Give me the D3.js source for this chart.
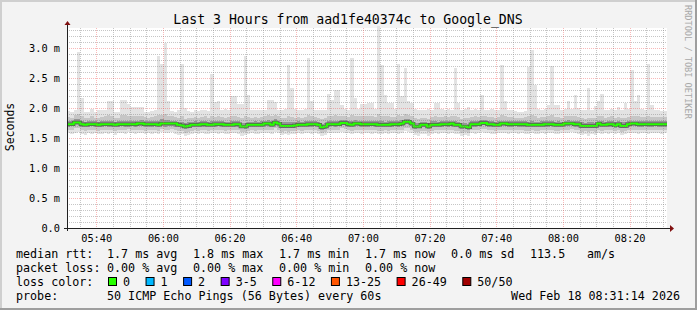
<!DOCTYPE html>
<html>
<head>
<meta charset="utf-8">
<script src="https://cdn.jsdelivr.net/npm/d3@7"></script>
<style>
  html, body { margin: 0; padding: 0; background: #f3f3f3; }
  svg text { font-family: "DejaVu Sans Mono", monospace; fill: #000; }
</style>
</head>
<body>
<svg id="chart" width="697" height="310"></svg>
<script>
const title = 'Last 3 Hours from aad1fe40374c to Google_DNS';
const yLabel = 'Seconds';
const yTickValues = [0, 0.5, 1.0, 1.5, 2.0, 2.5, 3.0]; // ms
const yTickLabels = ['0.0', '0.5 m', '1.0 m', '1.5 m', '2.0 m', '2.5 m', '3.0 m'];
const xTickLabels = ['05:40', '06:00', '06:20', '06:40', '07:00', '07:20', '07:40', '08:00', '08:20'];

// one column per minute, 05:31 -> 08:31 (ms)
const rttMax = [
  1.95,1.94,1.96,2.94,2.16,1.94,1.93,1.99,1.94,1.96, 1.96,1.96,2.12,2.12,1.94,1.93,2.13,2.13,2.06,2.01,
  2.01,2.01,2.01,1.94,1.93,1.95,1.97,2.86,2.74,3.08, 2.12,1.95,1.94,1.96,2.73,2.00,1.95,1.94,1.96,1.95,
  1.96,1.97,1.95,2.57,2.10,2.11,1.96,1.98,1.97,2.20, 2.20,2.06,2.06,2.87,2.22,1.97,1.96,1.97,1.96,1.97,
  2.13,2.13,2.10,1.97,1.96,1.98,2.72,2.33,1.98,1.97, 1.96,1.98,2.83,2.11,1.97,1.96,1.96,1.97,2.24,2.13,
  2.30,2.30,2.05,1.98,1.97,2.84,2.16,1.99,2.07,2.07, 2.08,2.08,1.99,3.36,2.72,2.21,2.08,2.08,1.98,2.73,
  2.20,2.66,2.11,2.09,1.98,1.97,1.97,1.96,1.98,1.97, 2.08,2.08,1.98,1.97,1.98,1.97,2.67,2.08,1.97,1.98,
  2.02,1.97,1.98,1.97,2.21,1.97,1.97,1.98,1.96,1.97, 2.72,2.12,1.97,1.96,1.95,1.93,1.94,1.95,2.69,2.97,
  2.38,1.99,1.97,1.98,2.05,2.70,2.05,2.05,1.96,1.98, 2.12,1.99,2.22,2.00,1.96,1.97,2.34,1.96,2.04,2.11,
  2.23,1.96,1.97,1.98,1.96,2.02,1.97,2.08,1.98,2.63, 2.11,2.22,1.98,1.96,2.73,2.05,1.97,1.96,1.95,1.95
];
const rttP90 = [
  1.85,1.84,1.88,1.90,1.86,1.83,1.84,1.87,1.84,1.84, 1.85,1.86,1.88,1.87,1.84,1.84,1.88,1.88,1.86,1.87,
  1.86,1.87,1.87,1.85,1.84,1.85,1.86,1.88,1.89,1.90, 1.87,1.86,1.85,1.84,1.86,1.82,1.83,1.84,1.85,1.84,
  1.85,1.86,1.84,1.87,1.85,1.86,1.85,1.84,1.85,1.87, 1.87,1.85,1.83,1.86,1.85,1.84,1.85,1.84,1.85,1.86,
  1.88,1.87,1.88,1.86,1.83,1.83,1.86,1.85,1.83,1.85, 1.84,1.85,1.88,1.86,1.85,1.84,1.82,1.83,1.87,1.86,
  1.88,1.87,1.87,1.86,1.85,1.88,1.86,1.86,1.86,1.86, 1.86,1.86,1.85,1.90,1.87,1.86,1.86,1.85,1.85,1.88,
  1.87,1.90,1.88,1.86,1.83,1.82,1.84,1.84,1.82,1.85, 1.86,1.85,1.85,1.86,1.85,1.86,1.87,1.85,1.82,1.83,
  1.83,1.85,1.86,1.85,1.87,1.86,1.85,1.85,1.84,1.85, 1.88,1.86,1.85,1.85,1.84,1.84,1.84,1.85,1.86,1.89,
  1.86,1.84,1.85,1.85,1.86,1.88,1.85,1.85,1.84,1.86, 1.87,1.86,1.86,1.85,1.83,1.82,1.84,1.83,1.83,1.86,
  1.86,1.84,1.85,1.86,1.83,1.85,1.83,1.84,1.85,1.87, 1.86,1.86,1.85,1.85,1.87,1.85,1.85,1.85,1.85,1.85
];
const rttP75 = [
  1.78,1.78,1.81,1.82,1.78,1.77,1.78,1.79,1.78,1.77, 1.78,1.79,1.79,1.78,1.77,1.78,1.79,1.79,1.78,1.79,
  1.78,1.79,1.80,1.78,1.78,1.78,1.79,1.78,1.81,1.80, 1.80,1.79,1.79,1.77,1.77,1.75,1.76,1.77,1.78,1.77,
  1.78,1.79,1.77,1.78,1.78,1.79,1.78,1.77,1.77,1.78, 1.79,1.78,1.75,1.75,1.77,1.77,1.78,1.77,1.78,1.79,
  1.80,1.78,1.81,1.79,1.76,1.76,1.76,1.77,1.76,1.78, 1.77,1.78,1.79,1.78,1.78,1.77,1.74,1.75,1.79,1.79,
  1.79,1.79,1.80,1.80,1.78,1.78,1.80,1.79,1.78,1.79, 1.78,1.79,1.79,1.78,1.78,1.77,1.78,1.78,1.79,1.79,
  1.80,1.82,1.82,1.79,1.75,1.75,1.77,1.77,1.75,1.78, 1.78,1.77,1.78,1.79,1.78,1.79,1.78,1.77,1.75,1.75,
  1.74,1.78,1.79,1.78,1.80,1.80,1.78,1.78,1.77,1.78, 1.79,1.79,1.78,1.78,1.78,1.78,1.78,1.78,1.77,1.78,
  1.77,1.77,1.78,1.78,1.79,1.79,1.77,1.78,1.77,1.79, 1.80,1.79,1.78,1.78,1.76,1.75,1.76,1.76,1.75,1.79,
  1.78,1.77,1.78,1.79,1.76,1.78,1.76,1.76,1.78,1.79, 1.79,1.78,1.78,1.79,1.78,1.78,1.78,1.78,1.78,1.78
];
const rttMedian = [
  1.73,1.73,1.76,1.76,1.73,1.72,1.73,1.73,1.73,1.72, 1.73,1.73,1.73,1.73,1.72,1.73,1.73,1.73,1.73,1.73,
  1.73,1.74,1.74,1.73,1.73,1.73,1.73,1.72,1.74,1.74, 1.74,1.74,1.74,1.72,1.71,1.69,1.70,1.72,1.72,1.72,
  1.73,1.73,1.72,1.72,1.73,1.73,1.73,1.72,1.72,1.72, 1.73,1.73,1.69,1.69,1.72,1.72,1.72,1.72,1.72,1.74,
  1.74,1.72,1.76,1.74,1.70,1.70,1.70,1.70,1.71,1.72, 1.72,1.72,1.73,1.73,1.73,1.72,1.68,1.69,1.73,1.73,
  1.73,1.73,1.75,1.75,1.73,1.72,1.74,1.74,1.73,1.73, 1.73,1.73,1.73,1.72,1.72,1.72,1.72,1.73,1.73,1.73,
  1.74,1.77,1.77,1.74,1.69,1.69,1.72,1.72,1.69,1.72, 1.72,1.72,1.73,1.73,1.73,1.74,1.72,1.72,1.69,1.69,
  1.68,1.73,1.73,1.73,1.75,1.75,1.73,1.73,1.72,1.72, 1.74,1.74,1.73,1.73,1.73,1.73,1.73,1.73,1.72,1.72,
  1.72,1.72,1.72,1.73,1.73,1.73,1.72,1.72,1.72,1.74, 1.74,1.74,1.73,1.73,1.70,1.70,1.70,1.70,1.70,1.74,
  1.72,1.72,1.73,1.73,1.71,1.73,1.70,1.70,1.73,1.74, 1.74,1.73,1.73,1.73,1.73,1.73,1.73,1.73,1.73,1.73
];
const rttP25 = [
  1.69,1.70,1.72,1.71,1.69,1.68,1.69,1.70,1.69,1.68, 1.69,1.70,1.69,1.69,1.68,1.69,1.70,1.69,1.69,1.70,
  1.69,1.70,1.70,1.69,1.68,1.69,1.70,1.68,1.70,1.69, 1.70,1.70,1.69,1.68,1.67,1.65,1.66,1.68,1.69,1.68,
  1.69,1.69,1.68,1.68,1.69,1.70,1.69,1.68,1.68,1.69, 1.69,1.69,1.66,1.65,1.68,1.69,1.68,1.68,1.69,1.70,
  1.70,1.68,1.72,1.70,1.66,1.67,1.66,1.67,1.67,1.68, 1.68,1.69,1.69,1.69,1.70,1.68,1.64,1.65,1.69,1.70,
  1.69,1.70,1.71,1.71,1.69,1.68,1.70,1.70,1.69,1.69, 1.69,1.70,1.69,1.68,1.68,1.69,1.68,1.69,1.70,1.69,
  1.70,1.73,1.73,1.70,1.65,1.66,1.68,1.68,1.65,1.68, 1.68,1.69,1.69,1.70,1.69,1.70,1.68,1.68,1.65,1.66,
  1.64,1.69,1.69,1.70,1.71,1.71,1.69,1.69,1.68,1.68, 1.70,1.70,1.69,1.69,1.70,1.69,1.69,1.69,1.68,1.68,
  1.68,1.68,1.69,1.69,1.69,1.70,1.68,1.68,1.68,1.70, 1.70,1.71,1.69,1.69,1.66,1.66,1.66,1.67,1.66,1.70,
  1.68,1.68,1.69,1.69,1.67,1.69,1.66,1.66,1.69,1.70, 1.70,1.69,1.69,1.70,1.69,1.69,1.70,1.69,1.69,1.69
];
const rttP10 = [
  1.64,1.63,1.66,1.66,1.63,1.62,1.64,1.63,1.64,1.62, 1.63,1.64,1.63,1.64,1.62,1.64,1.64,1.63,1.65,1.64,
  1.63,1.64,1.64,1.62,1.63,1.63,1.64,1.62,1.65,1.64, 1.64,1.65,1.63,1.62,1.61,1.59,1.60,1.62,1.63,1.62,
  1.64,1.63,1.62,1.63,1.64,1.63,1.64,1.62,1.63,1.63, 1.64,1.63,1.60,1.60,1.62,1.63,1.62,1.63,1.63,1.64,
  1.64,1.63,1.66,1.64,1.60,1.61,1.60,1.62,1.61,1.63, 1.62,1.63,1.64,1.63,1.64,1.62,1.58,1.60,1.63,1.64,
  1.63,1.64,1.66,1.65,1.63,1.62,1.64,1.64,1.63,1.64, 1.63,1.63,1.64,1.62,1.62,1.63,1.62,1.64,1.64,1.63,
  1.64,1.67,1.66,1.64,1.60,1.60,1.62,1.62,1.60,1.62, 1.63,1.63,1.63,1.64,1.63,1.64,1.62,1.62,1.59,1.60,
  1.58,1.63,1.63,1.64,1.65,1.65,1.63,1.63,1.62,1.63, 1.64,1.64,1.63,1.63,1.64,1.63,1.63,1.62,1.62,1.63,
  1.62,1.62,1.63,1.63,1.64,1.64,1.62,1.62,1.63,1.64, 1.64,1.65,1.63,1.63,1.60,1.61,1.60,1.61,1.60,1.64,
  1.62,1.63,1.63,1.64,1.61,1.63,1.60,1.61,1.63,1.64, 1.64,1.63,1.64,1.64,1.63,1.63,1.64,1.63,1.63,1.63
];
const rttMin = [
  1.58,1.56,1.58,1.60,1.57,1.55,1.58,1.57,1.59,1.56, 1.57,1.58,1.56,1.58,1.55,1.59,1.58,1.57,1.60,1.58,
  1.57,1.59,1.58,1.56,1.58,1.57,1.59,1.56,1.60,1.59, 1.58,1.60,1.57,1.55,1.56,1.53,1.55,1.57,1.58,1.56,
  1.58,1.57,1.56,1.58,1.59,1.57,1.58,1.56,1.57,1.58, 1.59,1.57,1.54,1.55,1.57,1.58,1.56,1.57,1.58,1.59,
  1.58,1.57,1.60,1.59,1.55,1.56,1.55,1.57,1.56,1.58, 1.57,1.58,1.59,1.57,1.58,1.57,1.53,1.55,1.58,1.59,
  1.58,1.59,1.60,1.59,1.58,1.57,1.59,1.58,1.57,1.59, 1.58,1.57,1.59,1.57,1.56,1.58,1.57,1.59,1.58,1.57,
  1.59,1.61,1.60,1.58,1.55,1.54,1.57,1.56,1.54,1.57, 1.58,1.57,1.58,1.59,1.57,1.58,1.57,1.56,1.54,1.55,
  1.53,1.58,1.57,1.59,1.60,1.59,1.58,1.57,1.56,1.58, 1.59,1.58,1.57,1.58,1.59,1.57,1.58,1.56,1.57,1.58,
  1.56,1.57,1.58,1.57,1.59,1.58,1.56,1.57,1.58,1.59, 1.58,1.60,1.58,1.57,1.55,1.56,1.54,1.56,1.55,1.59,
  1.57,1.58,1.57,1.59,1.56,1.58,1.55,1.56,1.58,1.59, 1.58,1.57,1.59,1.58,1.57,1.58,1.59,1.58,1.57,1.58
];

const rttStats = ['1.7 ms avg', '1.8 ms max', '1.7 ms min', '1.7 ms now', '0.0 ms sd', '113.5', 'am/s'];
const lossStats = ['0.00 % avg', '0.00 % max', '0.00 % min', '0.00 % now'];
const lossLabels = ['0', '1', '2', '3-5', '6-12', '13-25', '26-49', '50/50'];
const lossColors = ['#26ff00', '#00b8ff', '#0059ff', '#7e00ff', '#ff00ff', '#ff5500', '#ff0000', '#a10000'];
const probeText = '50 ICMP Echo Pings (56 Bytes) every 60s';
const stampText = 'Wed Feb 18 08:31:14 2026';

const W = 697, H = 310;
const plot = { left: 67, right: 667, top: 28, bottom: 228 };
const endTime = new Date(Date.UTC(2026, 1, 18, 8, 31, 14));
const startTime = new Date(endTime.getTime() - 3 * 3600 * 1000);

const svg = d3.select('#chart');

// background + 3d frame
svg.append('rect').attr('width', W).attr('height', H).attr('fill', '#f3f3f3');
svg.append('rect').attr('x', 0).attr('y', 0).attr('width', W).attr('height', 2).attr('fill', '#cfcfcf');
svg.append('rect').attr('x', 0).attr('y', 0).attr('width', 2).attr('height', H).attr('fill', '#cfcfcf');
svg.append('rect').attr('x', 0).attr('y', H - 2).attr('width', W).attr('height', 2).attr('fill', '#9e9e9e');
svg.append('rect').attr('x', W - 2).attr('y', 0).attr('width', 2).attr('height', H).attr('fill', '#9e9e9e');

svg.append('rect')
  .attr('x', plot.left).attr('y', plot.top)
  .attr('width', plot.right - plot.left).attr('height', plot.bottom - plot.top)
  .attr('fill', '#ffffff');

const x = d3.scaleUtc().domain([startTime, endTime]).range([plot.left, plot.right]);
const y = d3.scaleLinear().domain([0, 10 / 3]).range([plot.bottom, plot.top]);

// columns, plus a closing point so the last step reaches the right edge
const cols = rttMedian.map((m, i) => ({
  t: new Date(startTime.getTime() + i * 60000),
  min: rttMin[i], p10: rttP10[i], p25: rttP25[i], med: m,
  p75: rttP75[i], p90: rttP90[i], max: rttMax[i]
}));
cols.push(Object.assign({}, cols[cols.length - 1], { t: endTime }));

const smoke = [
  { lo: 'min', hi: 'max', fill: '#e3e3e3' },
  { lo: 'p10', hi: 'p90', fill: '#c6c6c6' },
  { lo: 'p25', hi: 'p75', fill: '#969696' }
];
const g = svg.append('g');
smoke.forEach(s => {
  g.append('path')
    .datum(cols)
    .attr('fill', s.fill)
    .attr('shape-rendering', 'crispEdges')
    .attr('d', d3.area()
      .curve(d3.curveStepAfter)
      .x(d => x(d.t))
      .y0(d => y(d[s.lo]))
      .y1(d => y(d[s.hi])));
});

const medLine = d3.line().curve(d3.curveStepAfter).x(d => x(d.t)).y(d => y(d.med));
g.append('path').datum(cols).attr('fill', 'none')
  .attr('stroke', '#5a5a5a').attr('stroke-width', 3.4).attr('d', medLine);
g.append('path').datum(cols).attr('fill', 'none')
  .attr('stroke', lossColors[0]).attr('stroke-width', 2).attr('d', medLine);

// grid on top of the data, like rrdtool
const grid = svg.append('g').attr('stroke-dasharray', '1,1').attr('stroke-width', 1);
const minorY = d3.range(1, 34).map(v => v / 10).filter(v => Math.round(v * 10) % 5 !== 0);
grid.selectAll('.hmin').data(minorY).enter().append('line')
  .attr('x1', plot.left).attr('x2', plot.right)
  .attr('y1', d => Math.round(y(d)) + 0.5).attr('y2', d => Math.round(y(d)) + 0.5)
  .attr('stroke', 'rgba(128,128,128,0.45)');
const minorX = d3.utcMinute.every(5).range(startTime, endTime).filter(t => t.getUTCMinutes() % 20 !== 0);
grid.selectAll('.vmin').data(minorX).enter().append('line')
  .attr('y1', plot.top).attr('y2', plot.bottom)
  .attr('x1', d => Math.round(x(d)) + 0.5).attr('x2', d => Math.round(x(d)) + 0.5)
  .attr('stroke', 'rgba(128,128,128,0.45)');
grid.selectAll('.hmaj').data(yTickValues.slice(1)).enter().append('line')
  .attr('x1', plot.left).attr('x2', plot.right)
  .attr('y1', d => Math.round(y(d)) + 0.5).attr('y2', d => Math.round(y(d)) + 0.5)
  .attr('stroke', 'rgba(240,70,70,0.38)');
const xTickTimes = xTickLabels.map(s => {
  const [h, m] = s.split(':').map(Number);
  return new Date(Date.UTC(2026, 1, 18, h, m));
});
grid.selectAll('.vmaj').data(xTickTimes).enter().append('line')
  .attr('y1', plot.top).attr('y2', plot.bottom)
  .attr('x1', d => Math.round(x(d)) + 0.5).attr('x2', d => Math.round(x(d)) + 0.5)
  .attr('stroke', 'rgba(240,70,70,0.38)');

// axes with arrows
svg.append('line').attr('x1', plot.left + 0.5).attr('x2', plot.left + 0.5)
  .attr('y1', plot.bottom + 3).attr('y2', plot.top - 4).attr('stroke', '#202020');
svg.append('line').attr('x1', plot.left - 3).attr('x2', plot.right + 4)
  .attr('y1', plot.bottom + 0.5).attr('y2', plot.bottom + 0.5).attr('stroke', '#202020');
svg.append('path').attr('fill', '#801010')
  .attr('d', `M${plot.left - 2.5},${plot.top - 3} L${plot.left + 3.5},${plot.top - 3} L${plot.left + 0.5},${plot.top - 7} Z`);
svg.append('path').attr('fill', '#801010')
  .attr('d', `M${plot.right + 3},${plot.bottom - 3} L${plot.right + 3},${plot.bottom + 4} L${plot.right + 7},${plot.bottom + 0.5} Z`);

// tick labels
svg.selectAll('.ylab').data(yTickValues).enter().append('text')
  .attr('x', 60).attr('y', d => y(d) + 3.5)
  .attr('text-anchor', 'end').attr('font-size', '10.3px')
  .text((d, i) => yTickLabels[i]);
svg.selectAll('.xlab').data(xTickTimes).enter().append('text')
  .attr('x', d => x(d) + 0.5).attr('y', 242)
  .attr('text-anchor', 'middle').attr('font-size', '10.3px')
  .text((d, i) => xTickLabels[i]);

svg.append('text').attr('x', 348).attr('y', 23.5)
  .attr('text-anchor', 'middle').attr('font-size', '13.2px').text(title);
svg.append('text').attr('transform', 'translate(14,127) rotate(-90)')
  .attr('text-anchor', 'middle').attr('font-size', '11.5px').text(yLabel);
svg.append('text').attr('transform', 'translate(685,5) rotate(90)')
  .attr('font-size', '8.6px').style('fill', '#a8a8a8').text('RRDTOOL / TOBI OETIKER');

// legend
const fs = '11.7px';
const row = [258, 272, 286, 299.5];
const statX = [107, 193, 279, 365, 451, 530, 587];
svg.append('text').attr('x', 16).attr('y', row[0]).attr('font-size', fs).text('median rtt:');
rttStats.forEach((s, i) => svg.append('text').attr('x', statX[i]).attr('y', row[0]).attr('font-size', fs).text(s));
svg.append('text').attr('x', 16).attr('y', row[1]).attr('font-size', fs).text('packet loss:');
lossStats.forEach((s, i) => svg.append('text').attr('x', statX[i]).attr('y', row[1]).attr('font-size', fs).text(s));
svg.append('text').attr('x', 16).attr('y', row[2]).attr('font-size', fs).text('loss color:');
let lx = 108;
lossLabels.forEach((s, i) => {
  svg.append('rect').attr('x', lx + 0.5).attr('y', row[2] - 8.5).attr('width', 8).attr('height', 8)
    .attr('fill', lossColors[i]).attr('stroke', '#000');
  const t = svg.append('text').attr('x', lx + 15).attr('y', row[2]).attr('font-size', fs).text(s);
  lx = lx + 15 + t.node().getComputedTextLength() + 15.5;
});
svg.append('text').attr('x', 16).attr('y', row[3]).attr('font-size', fs).text('probe:');
svg.append('text').attr('x', 107).attr('y', row[3]).attr('font-size', fs).text(probeText);
svg.append('text').attr('x', 680).attr('y', row[3]).attr('text-anchor', 'end').attr('font-size', fs).text(stampText);
</script>
</body>
</html>
